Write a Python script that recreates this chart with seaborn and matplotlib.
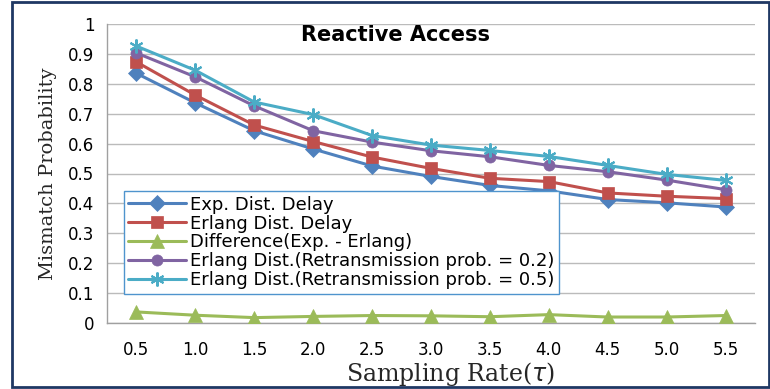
import numpy as np
import pandas as pd
import matplotlib
matplotlib.use("Agg")
import matplotlib.pyplot as plt
import seaborn as sns
from matplotlib.patches import Rectangle

# ======================================
# DATA
# ======================================
rates = ["0.5", "1.0", "1.5", "2.0", "2.5", "3.0", "3.5", "4.0", "4.5", "5.0", "5.5"]

exp_delay = [0.835, 0.736, 0.643, 0.582, 0.525, 0.490, 0.460, 0.442, 0.413, 0.402, 0.388]
erlang_delay = [0.873, 0.762, 0.662, 0.607, 0.555, 0.517, 0.484, 0.473, 0.435, 0.424, 0.416]
difference = [0.037, 0.026, 0.018, 0.022, 0.025, 0.024, 0.021, 0.028, 0.020, 0.020, 0.025]
erlang_r02 = [0.903, 0.823, 0.726, 0.643, 0.605, 0.576, 0.556, 0.527, 0.506, 0.478, 0.446]
erlang_r05 = [0.926, 0.845, 0.739, 0.697, 0.627, 0.595, 0.577, 0.557, 0.527, 0.497, 0.477]

labels = [
    "Exp. Dist. Delay",
    "Erlang Dist. Delay",
    "Difference(Exp. - Erlang)",
    "Erlang Dist.(Retransmission prob. = 0.2)",
    "Erlang Dist.(Retransmission prob. = 0.5)",
]
series = [exp_delay, erlang_delay, difference, erlang_r02, erlang_r05]
colors = ["#4F81BD", "#C0504D", "#9BBB59", "#8064A2", "#4BACC6"]
markers = ["D", "s", "^", "o", (6, 2, 0)]
msizes = [8, 8, 10, 8, 10]

# long form table for seaborn
rows = []
for lab, vals in zip(labels, series):
    for i, v in enumerate(vals):
        rows.append({"pos": i, "val": v, "series": lab})
df = pd.DataFrame(rows)

# ======================================
# STYLE
# ======================================
sns.set_style("white")
plt.rcParams["font.family"] = ["DejaVu Sans"]
plt.rcParams["text.color"] = "black"

fig = plt.figure(figsize=(7.7, 3.89), dpi=100)
ax = fig.add_axes([107 / 770, 66 / 389, 648 / 770, 299 / 389])

for lab, col, mk, ms in zip(labels, colors, markers, msizes):
    sub = df[df["series"] == lab]
    sns.lineplot(
        data=sub, x="pos", y="val", ax=ax, color=col, marker=mk,
        markersize=ms, markeredgecolor=col, markeredgewidth=1.5 if mk == (6, 2, 0) else 0.5,
        linewidth=2.2, label=lab, zorder=3,
    )

# ======================================
# AXES
# ======================================
ax.set_xlim(-0.5, len(rates) - 0.5)
ax.set_ylim(0, 1)
ax.set_yticks(np.arange(0, 1.01, 0.1))
ax.set_yticklabels(["0"] + [f"{v:.1f}" for v in np.arange(0.1, 0.95, 0.1)] + ["1"])
ax.set_xticks(range(len(rates)))
ax.set_xticklabels(rates)
ax.set_xticks(np.arange(-0.5, len(rates), 1), minor=True)
ax.tick_params(axis="x", which="major", length=0, labelsize=12, pad=13)
ax.tick_params(axis="x", which="minor", length=5, width=1, color="#A0A0A0", direction="out")
ax.tick_params(axis="y", length=0, labelsize=12, pad=9)
for lbl in ax.get_xticklabels() + ax.get_yticklabels():
    lbl.set_color("black")

ax.grid(axis="y", color="#BBBBBB", linewidth=1, zorder=0)
ax.set_axisbelow(True)
for s in ["top", "right"]:
    ax.spines[s].set_visible(False)
for s in ["left", "bottom"]:
    ax.spines[s].set_color("#A0A0A0")
    ax.spines[s].set_linewidth(1)

ax.set_xlabel(r"Sampling Rate($\tau$)", family="DejaVu Serif", fontsize=17, labelpad=2)
ax.xaxis.set_label_coords(0.53, -0.125)
ax.set_ylabel("Mismatch Probability", family="DejaVu Serif", fontsize=14, labelpad=8)
ax.text(0.445, 0.995, "Reactive Access", transform=ax.transAxes, ha="center", va="top",
        fontsize=15, fontweight="bold", color="black")

leg = ax.legend(loc="upper left", bbox_to_anchor=(0.026, 0.441), borderaxespad=0,
                fontsize=13, handlelength=3.2, labelspacing=0.05, borderpad=0.25,
                handletextpad=0.2, fancybox=False, framealpha=1)
leg.get_frame().set_edgecolor("#4F94CD")
leg.get_frame().set_linewidth(1)
for t in leg.get_texts():
    t.set_color("black")

# dark border around the whole picture
fig.patches.append(Rectangle((12 / 770, 2 / 389), 1 - 12 / 770 - 0.001, 1 - 4 / 389,
                             transform=fig.transFigure, fill=False,
                             edgecolor="#1F3864", linewidth=2))

fig.savefig("out.png", dpi=100)
